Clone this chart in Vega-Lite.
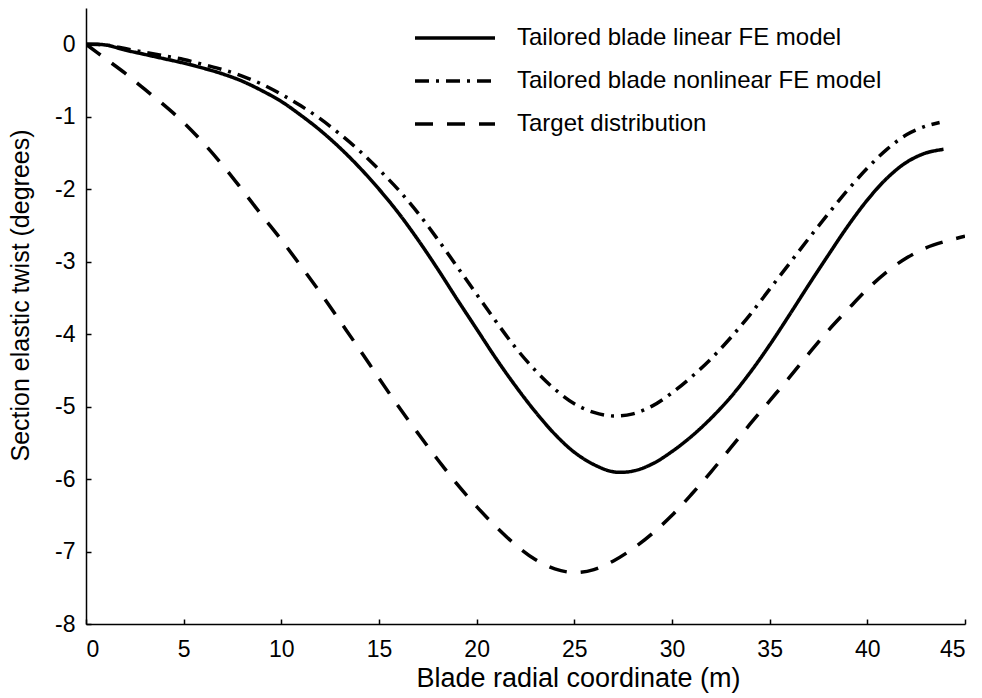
{
  "$schema": "https://vega.github.io/schema/vega-lite/v6.json",
  "width": 879,
  "height": 616,
  "autosize": {"type": "none"},
  "padding": {"left": 86, "top": 8, "right": 17, "bottom": 74},
  "background": "white",
  "config": {
    "view": {"stroke": null},
    "font": "Liberation Sans",
    "axis": {
      "grid": false,
      "domainColor": "black",
      "domainWidth": 1.5,
      "tickColor": "black",
      "tickWidth": 1.5,
      "tickSize": -5,
      "labelColor": "black",
      "labelFontSize": 23,
      "titleFontWeight": "normal",
      "titleColor": "black",
      "labelExpr": "'' + datum.value"
    },
    "legend": {
      "labelFontSize": 24,
      "labelColor": "black",
      "labelLimit": 0
    }
  },
  "data": {
    "values": [
      {"s": "Tailored blade linear FE model", "x": 0, "y": 0},
      {"s": "Tailored blade linear FE model", "x": 1, "y": -0.01},
      {"s": "Tailored blade linear FE model", "x": 2, "y": -0.08},
      {"s": "Tailored blade linear FE model", "x": 3, "y": -0.14},
      {"s": "Tailored blade linear FE model", "x": 4, "y": -0.2},
      {"s": "Tailored blade linear FE model", "x": 5, "y": -0.26},
      {"s": "Tailored blade linear FE model", "x": 6, "y": -0.33},
      {"s": "Tailored blade linear FE model", "x": 7, "y": -0.41},
      {"s": "Tailored blade linear FE model", "x": 8, "y": -0.51},
      {"s": "Tailored blade linear FE model", "x": 9, "y": -0.64},
      {"s": "Tailored blade linear FE model", "x": 10, "y": -0.79},
      {"s": "Tailored blade linear FE model", "x": 11, "y": -0.98},
      {"s": "Tailored blade linear FE model", "x": 12, "y": -1.19},
      {"s": "Tailored blade linear FE model", "x": 13, "y": -1.43},
      {"s": "Tailored blade linear FE model", "x": 14, "y": -1.7},
      {"s": "Tailored blade linear FE model", "x": 15, "y": -2.0},
      {"s": "Tailored blade linear FE model", "x": 16, "y": -2.33},
      {"s": "Tailored blade linear FE model", "x": 17, "y": -2.7},
      {"s": "Tailored blade linear FE model", "x": 18, "y": -3.1},
      {"s": "Tailored blade linear FE model", "x": 19, "y": -3.52},
      {"s": "Tailored blade linear FE model", "x": 20, "y": -3.93},
      {"s": "Tailored blade linear FE model", "x": 21, "y": -4.34},
      {"s": "Tailored blade linear FE model", "x": 22, "y": -4.72},
      {"s": "Tailored blade linear FE model", "x": 23, "y": -5.07},
      {"s": "Tailored blade linear FE model", "x": 24, "y": -5.38},
      {"s": "Tailored blade linear FE model", "x": 25, "y": -5.63},
      {"s": "Tailored blade linear FE model", "x": 26, "y": -5.8},
      {"s": "Tailored blade linear FE model", "x": 27, "y": -5.9},
      {"s": "Tailored blade linear FE model", "x": 28, "y": -5.89},
      {"s": "Tailored blade linear FE model", "x": 29, "y": -5.79},
      {"s": "Tailored blade linear FE model", "x": 30, "y": -5.62},
      {"s": "Tailored blade linear FE model", "x": 31, "y": -5.41},
      {"s": "Tailored blade linear FE model", "x": 32, "y": -5.16},
      {"s": "Tailored blade linear FE model", "x": 33, "y": -4.87},
      {"s": "Tailored blade linear FE model", "x": 34, "y": -4.53},
      {"s": "Tailored blade linear FE model", "x": 35, "y": -4.15},
      {"s": "Tailored blade linear FE model", "x": 36, "y": -3.74},
      {"s": "Tailored blade linear FE model", "x": 37, "y": -3.32},
      {"s": "Tailored blade linear FE model", "x": 38, "y": -2.91},
      {"s": "Tailored blade linear FE model", "x": 39, "y": -2.51},
      {"s": "Tailored blade linear FE model", "x": 40, "y": -2.15},
      {"s": "Tailored blade linear FE model", "x": 41, "y": -1.85},
      {"s": "Tailored blade linear FE model", "x": 42, "y": -1.63},
      {"s": "Tailored blade linear FE model", "x": 43, "y": -1.5},
      {"s": "Tailored blade linear FE model", "x": 43.9, "y": -1.45},

      {"s": "Tailored blade nonlinear FE model", "x": 0, "y": 0},
      {"s": "Tailored blade nonlinear FE model", "x": 1, "y": -0.01},
      {"s": "Tailored blade nonlinear FE model", "x": 2, "y": -0.06},
      {"s": "Tailored blade nonlinear FE model", "x": 3, "y": -0.11},
      {"s": "Tailored blade nonlinear FE model", "x": 4, "y": -0.16},
      {"s": "Tailored blade nonlinear FE model", "x": 5, "y": -0.21},
      {"s": "Tailored blade nonlinear FE model", "x": 6, "y": -0.28},
      {"s": "Tailored blade nonlinear FE model", "x": 7, "y": -0.35},
      {"s": "Tailored blade nonlinear FE model", "x": 8, "y": -0.44},
      {"s": "Tailored blade nonlinear FE model", "x": 9, "y": -0.55},
      {"s": "Tailored blade nonlinear FE model", "x": 10, "y": -0.69},
      {"s": "Tailored blade nonlinear FE model", "x": 11, "y": -0.85},
      {"s": "Tailored blade nonlinear FE model", "x": 12, "y": -1.03},
      {"s": "Tailored blade nonlinear FE model", "x": 13, "y": -1.24},
      {"s": "Tailored blade nonlinear FE model", "x": 14, "y": -1.47},
      {"s": "Tailored blade nonlinear FE model", "x": 15, "y": -1.73},
      {"s": "Tailored blade nonlinear FE model", "x": 16, "y": -2.01},
      {"s": "Tailored blade nonlinear FE model", "x": 17, "y": -2.33},
      {"s": "Tailored blade nonlinear FE model", "x": 18, "y": -2.69},
      {"s": "Tailored blade nonlinear FE model", "x": 19, "y": -3.07},
      {"s": "Tailored blade nonlinear FE model", "x": 20, "y": -3.45},
      {"s": "Tailored blade nonlinear FE model", "x": 21, "y": -3.83},
      {"s": "Tailored blade nonlinear FE model", "x": 22, "y": -4.19},
      {"s": "Tailored blade nonlinear FE model", "x": 23, "y": -4.5},
      {"s": "Tailored blade nonlinear FE model", "x": 24, "y": -4.76},
      {"s": "Tailored blade nonlinear FE model", "x": 25, "y": -4.96},
      {"s": "Tailored blade nonlinear FE model", "x": 26, "y": -5.08},
      {"s": "Tailored blade nonlinear FE model", "x": 27, "y": -5.13},
      {"s": "Tailored blade nonlinear FE model", "x": 28, "y": -5.1},
      {"s": "Tailored blade nonlinear FE model", "x": 29, "y": -4.99},
      {"s": "Tailored blade nonlinear FE model", "x": 30, "y": -4.81},
      {"s": "Tailored blade nonlinear FE model", "x": 31, "y": -4.59},
      {"s": "Tailored blade nonlinear FE model", "x": 32, "y": -4.34},
      {"s": "Tailored blade nonlinear FE model", "x": 33, "y": -4.05},
      {"s": "Tailored blade nonlinear FE model", "x": 34, "y": -3.73},
      {"s": "Tailored blade nonlinear FE model", "x": 35, "y": -3.38},
      {"s": "Tailored blade nonlinear FE model", "x": 36, "y": -3.03},
      {"s": "Tailored blade nonlinear FE model", "x": 37, "y": -2.68},
      {"s": "Tailored blade nonlinear FE model", "x": 38, "y": -2.34},
      {"s": "Tailored blade nonlinear FE model", "x": 39, "y": -2.01},
      {"s": "Tailored blade nonlinear FE model", "x": 40, "y": -1.71},
      {"s": "Tailored blade nonlinear FE model", "x": 41, "y": -1.45},
      {"s": "Tailored blade nonlinear FE model", "x": 42, "y": -1.25},
      {"s": "Tailored blade nonlinear FE model", "x": 43, "y": -1.13},
      {"s": "Tailored blade nonlinear FE model", "x": 43.7, "y": -1.08},

      {"s": "Target distribution", "x": 0, "y": 0},
      {"s": "Target distribution", "x": 1, "y": -0.2},
      {"s": "Target distribution", "x": 2, "y": -0.4},
      {"s": "Target distribution", "x": 3, "y": -0.62},
      {"s": "Target distribution", "x": 4, "y": -0.84},
      {"s": "Target distribution", "x": 5, "y": -1.08},
      {"s": "Target distribution", "x": 6, "y": -1.36},
      {"s": "Target distribution", "x": 7, "y": -1.67},
      {"s": "Target distribution", "x": 8, "y": -2.01},
      {"s": "Target distribution", "x": 9, "y": -2.36},
      {"s": "Target distribution", "x": 10, "y": -2.7},
      {"s": "Target distribution", "x": 11, "y": -3.06},
      {"s": "Target distribution", "x": 12, "y": -3.43},
      {"s": "Target distribution", "x": 13, "y": -3.82},
      {"s": "Target distribution", "x": 14, "y": -4.21},
      {"s": "Target distribution", "x": 15, "y": -4.61},
      {"s": "Target distribution", "x": 16, "y": -5.0},
      {"s": "Target distribution", "x": 17, "y": -5.37},
      {"s": "Target distribution", "x": 18, "y": -5.73},
      {"s": "Target distribution", "x": 19, "y": -6.07},
      {"s": "Target distribution", "x": 20, "y": -6.38},
      {"s": "Target distribution", "x": 21, "y": -6.66},
      {"s": "Target distribution", "x": 22, "y": -6.91},
      {"s": "Target distribution", "x": 23, "y": -7.11},
      {"s": "Target distribution", "x": 24, "y": -7.24},
      {"s": "Target distribution", "x": 25, "y": -7.29},
      {"s": "Target distribution", "x": 26, "y": -7.25},
      {"s": "Target distribution", "x": 27, "y": -7.13},
      {"s": "Target distribution", "x": 28, "y": -6.96},
      {"s": "Target distribution", "x": 29, "y": -6.75},
      {"s": "Target distribution", "x": 30, "y": -6.5},
      {"s": "Target distribution", "x": 31, "y": -6.21},
      {"s": "Target distribution", "x": 32, "y": -5.9},
      {"s": "Target distribution", "x": 33, "y": -5.57},
      {"s": "Target distribution", "x": 34, "y": -5.24},
      {"s": "Target distribution", "x": 35, "y": -4.92},
      {"s": "Target distribution", "x": 36, "y": -4.6},
      {"s": "Target distribution", "x": 37, "y": -4.27},
      {"s": "Target distribution", "x": 38, "y": -3.95},
      {"s": "Target distribution", "x": 39, "y": -3.66},
      {"s": "Target distribution", "x": 40, "y": -3.38},
      {"s": "Target distribution", "x": 41, "y": -3.14},
      {"s": "Target distribution", "x": 42, "y": -2.95},
      {"s": "Target distribution", "x": 43, "y": -2.81},
      {"s": "Target distribution", "x": 44, "y": -2.72},
      {"s": "Target distribution", "x": 45, "y": -2.65}
    ]
  },
  "mark": {"type": "line", "interpolate": "catmull-rom", "color": "black", "strokeWidth": 3.5, "strokeCap": "butt", "clip": true},
  "encoding": {
    "x": {
      "field": "x", "type": "quantitative",
      "scale": {"domain": [0, 45], "nice": false},
      "axis": {"values": [0, 5, 10, 15, 20, 25, 30, 35, 40, 45], "title": "Blade radial coordinate (m)", "labelFontSize": 23, "labelPadding": 19, "titleFontSize": 27, "titleX": 492, "titleY": 41}
    },
    "y": {
      "field": "y", "type": "quantitative",
      "scale": {"domain": [-8, 0.5], "nice": false},
      "axis": {"values": [-8, -7, -6, -5, -4, -3, -2, -1, 0], "title": "Section elastic twist (degrees)", "labelFontSize": 23, "labelPadding": 16, "titleFontSize": 25, "titleX": -53, "titleY": 287}
    },
    "strokeDash": {
      "field": "s", "type": "nominal",
      "scale": {
        "domain": ["Tailored blade linear FE model", "Tailored blade nonlinear FE model", "Target distribution"],
        "range": [[1, 0], [14, 7, 3, 7], [18, 14]]
      },
      "legend": {
        "title": null,
        "orient": "none",
        "legendX": 327,
        "legendY": 13,
        "symbolType": "stroke",
        "symbolSize": 6400,
        "symbolStrokeWidth": 3.5,
        "symbolStrokeColor": "black",
        "clipHeight": 34,
        "rowPadding": 9,
        "labelOffset": 20
      }
    }
  }
}
